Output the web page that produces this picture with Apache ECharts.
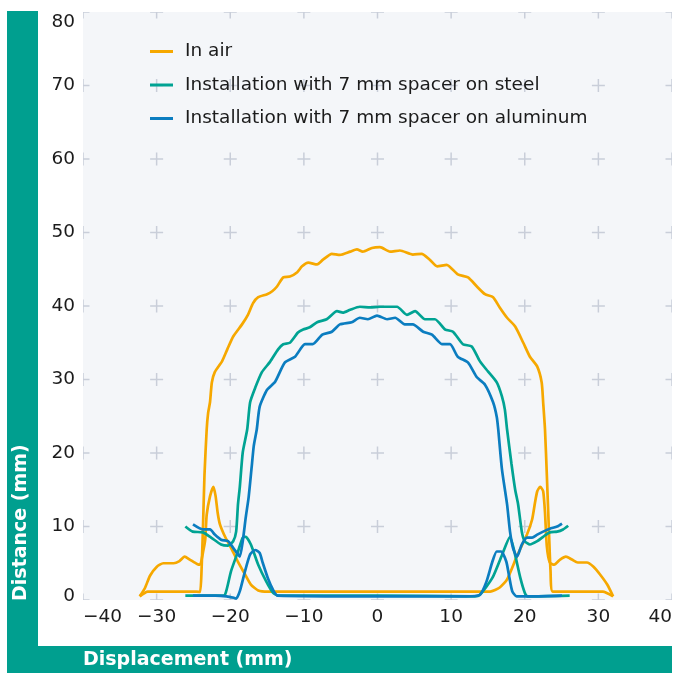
<!DOCTYPE html>
<html>
<head>
<meta charset="utf-8">
<script src="https://cdn.jsdelivr.net/npm/echarts@6/dist/echarts.min.js"></script>
<style>
html,body{margin:0;padding:0;background:#fff;}
#chart{width:683px;height:673px;}
</style>
</head>
<body>
<div id="chart"></div>
<script>
var xTicks = [-40, -30, -20, -10, 0, 10, 20, 30, 40];
var yTicks = [0, 10, 20, 30, 40, 50, 60, 70, 80];
var seriesNames = ['In air', 'Installation with 7 mm spacer on steel', 'Installation with 7 mm spacer on aluminum'];

// In air: dome trace (with lower baseline)
var airDome = [[-32.3,0.5],[-31.2,1.15],[-28,1.15],[-24.6,1.15],[-24.1,1.1],[-23.9,4],[-23.7,10],[-23.5,17],[-23.2,23.2],[-23.0,25.5],[-22.75,26.9],[-22.5,29.6],[-22.1,31.0],[-21.1,32.5],[-20.4,34.1],[-19.6,35.85],[-18.4,37.5],[-17.6,38.8],[-16.9,40.4],[-16.2,41.2],[-15.0,41.6],[-14.3,42.0],[-13.65,42.65],[-12.8,43.9],[-11.9,44.0],[-10.9,44.6],[-10.25,45.4],[-9.4,45.9],[-8.2,45.65],[-7.4,46.3],[-6.2,47.1],[-5.1,46.95],[-3.7,47.4],[-2.8,47.7],[-2.0,47.4],[-0.75,47.9],[0.34,48.0],[1.7,47.4],[3.05,47.55],[4.8,47.0],[6.0,47.1],[7.1,46.3],[8.1,45.4],[9.4,45.6],[10.9,44.3],[12.3,43.9],[13.5,42.65],[14.6,41.6],[15.7,41.2],[16.6,39.8],[17.6,38.4],[18.7,37.2],[19.8,35.0],[20.7,33.1],[21.7,31.75],[22.3,29.6],[22.5,26.9],[22.75,23.2],[23.0,17],[23.3,9],[23.5,4],[23.8,1.15],[27,1.15],[30.6,1.15],[32.0,0.5]];
// In air: side humps and peaks
var airSide = [[-32.3,0.5],[-31.6,1.6],[-30.9,3.3],[-30.0,4.5],[-29.1,5.0],[-27.7,5.0],[-26.9,5.3],[-26.2,5.9],[-25.5,5.5],[-24.5,4.9],[-24.1,4.8],[-23.7,6.5],[-23.4,8.2],[-23.2,11.6],[-22.75,14.1],[-22.3,15.4],[-22.0,14.2],[-21.7,11.8],[-21.4,10.3],[-20.7,8.6],[-19.9,7.1],[-18.95,5.2],[-18.0,3.5],[-17.2,2.1],[-16.2,1.3],[-14.9,1.15],[0,1.15],[14.5,1.15],[15.3,1.15],[16.6,1.7],[17.6,2.8],[18.95,6.0],[20.3,8.9],[21.0,10.95],[21.4,13.3],[21.7,14.8],[22.1,15.4],[22.5,14.8],[22.75,11.9],[23.0,7.3],[23.4,5.1],[24.0,4.8],[24.8,5.5],[25.6,5.9],[26.4,5.5],[27.2,5.1],[28.45,5.1],[29.3,4.55],[30.2,3.5],[31.2,2.1],[32.0,0.5]];

// Steel: dome trace with wavy side arms
var steelDome = [[-26.1,10.0],[-25.1,9.3],[-23.7,9.2],[-22.6,8.5],[-21.25,7.55],[-20.3,7.4],[-19.6,8.0],[-19.2,9.3],[-18.95,13.0],[-18.7,15.4],[-18.3,20.1],[-17.7,23.2],[-17.3,26.9],[-16.6,28.9],[-15.7,31.0],[-14.6,32.4],[-13.5,34.1],[-12.8,34.8],[-11.9,35.0],[-10.8,36.4],[-10.1,36.8],[-9.2,37.1],[-8.2,37.8],[-6.9,38.2],[-5.5,39.3],[-4.7,39.1],[-3.7,39.5],[-2.4,39.9],[-1.0,39.8],[0.34,39.9],[2.65,39.9],[4.0,38.8],[5.1,39.3],[6.45,38.2],[7.8,38.2],[9.2,36.8],[10.25,36.5],[11.6,34.8],[12.8,34.5],[13.9,32.5],[15.0,31.1],[16.2,29.6],[16.9,27.7],[17.3,25.9],[17.6,23.2],[18.2,18.5],[18.7,15.0],[19.1,13.0],[19.6,9.3],[20.0,8.0],[20.7,7.55],[21.7,8.0],[22.5,8.6],[23.4,9.2],[24.4,9.3],[25.2,9.6],[25.9,10.1]];
// Steel: baseline with bumps
var steelBase = [[-26.1,0.6],[-21.5,0.6],[-20.7,0.75],[-19.9,3.9],[-18.95,6.6],[-18.3,8.5],[-17.9,8.6],[-17.2,7.55],[-16.2,4.8],[-15.1,2.5],[-14.2,1.0],[-13.5,0.6],[0,0.6],[13.2,0.5],[13.9,0.7],[15.6,3.0],[16.9,6.1],[18.0,8.6],[18.7,6.1],[19.4,3.0],[20.0,1.0],[20.4,0.5],[26.1,0.6]];

// Aluminum: dome trace with wavy side arms
var aluDome = [[-25.06,10.3],[-23.7,9.6],[-22.75,9.6],[-22.1,8.9],[-21.25,8.2],[-20.3,8.0],[-19.6,7.1],[-18.95,6.2],[-18.7,5.9],[-18.3,8.0],[-17.9,11.2],[-17.5,14],[-17.1,18],[-16.8,21],[-16.4,23.2],[-16.0,26.3],[-15.0,28.6],[-13.9,29.7],[-12.6,32.3],[-11.2,33.1],[-9.85,34.8],[-8.8,34.8],[-7.5,36.1],[-6.2,36.5],[-5.1,37.5],[-3.5,37.8],[-2.4,38.4],[-1.3,38.2],[-0.07,38.7],[1.3,38.2],[2.4,38.4],[3.7,37.5],[4.8,37.5],[6.2,36.5],[7.4,36.1],[8.8,34.8],[9.85,34.8],[10.9,33.1],[12.3,32.3],[13.5,30.3],[14.6,29.3],[15.7,26.9],[16.2,24.9],[16.4,23.2],[16.9,17.8],[17.6,13.0],[18.0,9.3],[18.4,7.1],[18.95,5.9],[19.6,7.55],[20.3,8.5],[21.0,8.5],[21.7,8.9],[22.5,9.3],[23.4,9.7],[24.4,10.0],[25.06,10.4]];
// Aluminum: baseline with bumps
var aluBase = [[-25.06,0.6],[-22,0.6],[-20.5,0.5],[-19.5,0.3],[-19.2,0.2],[-18.7,1.2],[-18.0,3.9],[-17.3,6.2],[-16.6,6.8],[-16.0,6.4],[-15.6,5.1],[-14.9,3.0],[-14.2,1.4],[-13.6,0.6],[0,0.5],[12,0.5],[13.9,0.7],[14.8,2.5],[15.6,5.2],[16.2,6.6],[16.8,6.6],[17.5,5.2],[17.9,3.1],[18.3,1.2],[18.9,0.5],[21,0.5],[25.06,0.6]];

var colors = ['#f6a800', '#00a393', '#0b7dc0'];
var FONT = 'DejaVu Sans';
var FS = 18.5;

var crossPts = [];
xTicks.forEach(function (x) { yTicks.forEach(function (y) { crossPts.push([x, y]); }); });

function lineSeries(name, data, color) {
  return {
    type: 'line', name: name, data: data, showSymbol: false, smooth: 0.2,
    lineStyle: { color: color, width: 2.7 }, itemStyle: { color: color },
    clip: true, z: 3, silent: true
  };
}

function renderCross(params, api) {
  var p = api.coord([api.value(0), api.value(1)]);
  var cs = params.coordSys;
  var area = { x: cs.x, y: cs.y, width: cs.width, height: cs.height };
  var h = 6.5, t = 1.5;
  var children = [];
  var hr = echarts.graphic.clipRectByRect({ x: p[0] - h, y: p[1] - t / 2, width: 2 * h, height: t }, area);
  var vr = echarts.graphic.clipRectByRect({ x: p[0] - t / 2, y: p[1] - h, width: t, height: 2 * h }, area);
  if (hr) children.push({ type: 'rect', shape: hr, style: { fill: '#c9ced9' } });
  if (vr) children.push({ type: 'rect', shape: vr, style: { fill: '#c9ced9' } });
  return { type: 'group', children: children };
}

var chart = echarts.init(document.getElementById('chart'), null, { renderer: 'canvas' });
chart.setOption({
  animation: false,
  backgroundColor: '#ffffff',
  grid: { left: 83, top: 12, right: 11, bottom: 73, show: true, backgroundColor: '#f4f6f9', borderWidth: 0 },
  xAxis: {
    type: 'value', min: -40, max: 40, interval: 10,
    axisLine: { show: false }, axisTick: { show: false }, splitLine: { show: false },
    axisLabel: { color: '#1b1b1b', fontSize: FS, fontFamily: FONT, margin: 8,
      alignMinLabel: 'left', alignMaxLabel: 'right',
      formatter: function (v) { return v < 0 ? '\u2212' + Math.abs(v) : String(v); } }
  },
  yAxis: {
    type: 'value', min: 0, max: 80, interval: 10,
    axisLine: { show: false }, axisTick: { show: false }, splitLine: { show: false },
    axisLabel: { color: '#1b1b1b', fontSize: FS, fontFamily: FONT, margin: 8,
      formatter: function (v) { return v === 80 ? '{mx|80}' : (v === 0 ? '{mn|0}' : String(v)); },
      rich: {
        mx: { fontSize: FS, fontFamily: FONT, color: '#1b1b1b', padding: [20, 0, 0, 0] },
        mn: { fontSize: FS, fontFamily: FONT, color: '#1b1b1b', padding: [0, 0, 7, 0] }
      }
    }
  },
  legend: {
    data: seriesNames, orient: 'vertical', left: 145, top: 37, itemGap: 14.5,
    itemWidth: 23, itemHeight: 3, icon: 'rect',
    textStyle: { color: '#1b1b1b', fontSize: FS, fontFamily: FONT, padding: [0, 0, 0, 7] }
  },
  graphic: [
    { type: 'rect', left: 7, top: 11, shape: { width: 31, height: 662 }, style: { fill: '#009f8f' }, silent: true },
    { type: 'rect', left: 7, top: 646, shape: { width: 665, height: 27 }, style: { fill: '#009f8f' }, silent: true },
    { type: 'text', left: 83, top: 651, style: { text: 'Displacement (mm)', fill: '#ffffff', font: 'bold 19px "DejaVu Sans"' }, silent: true },
    { type: 'text', x: 12, y: 601, rotation: Math.PI / 2, style: { text: 'Distance (mm)', fill: '#ffffff', font: 'bold 19px "DejaVu Sans"', textAlign: 'left', textVerticalAlign: 'top' }, silent: true }
  ],
  series: [
    { type: 'custom', data: crossPts, renderItem: renderCross, silent: true, z: 1, clip: true },
    lineSeries(seriesNames[0], airDome, colors[0]),
    lineSeries(seriesNames[0], airSide, colors[0]),
    lineSeries(seriesNames[1], steelDome, colors[1]),
    lineSeries(seriesNames[1], steelBase, colors[1]),
    lineSeries(seriesNames[2], aluDome, colors[2]),
    lineSeries(seriesNames[2], aluBase, colors[2])
  ]
});
</script>
</body>
</html>
